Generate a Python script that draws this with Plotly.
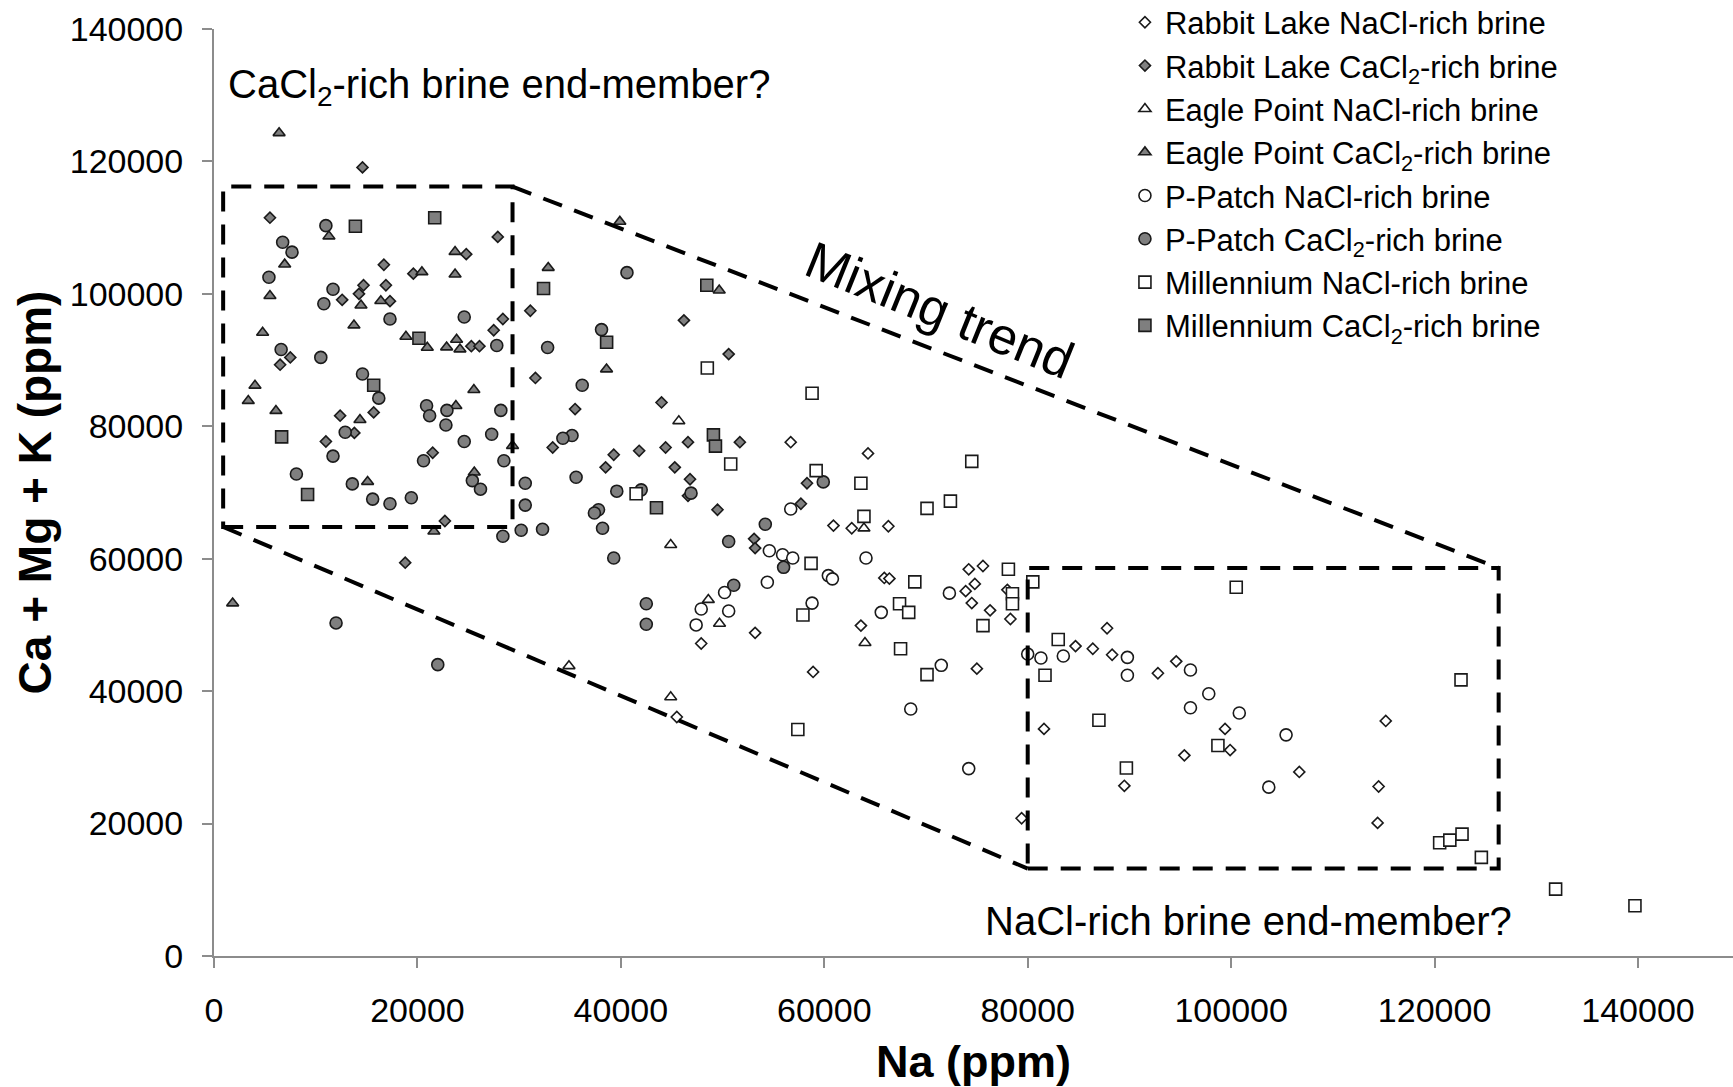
import plotly.graph_objects as go

FONT = "Liberation Sans, Arial, sans-serif"

# ---------------- data (Na ppm, Ca+Mg+K ppm) ----------------
rl_nacl_na = [56700, 60900, 47900, 53200, 58900, 45500, 64300, 62700, 66300, 65900, 66400, 74200, 75600,
              74800, 73900, 74500, 76300, 78000, 78300, 63600, 75000, 84700, 86400, 87800, 88300, 92800,
              94600, 99400, 99900, 95400, 106700, 89500, 81600, 115200, 114500, 114400, 79400]
rl_nacl_cmk = [77600, 65000, 47200, 48800, 42900, 36100, 75900, 64600, 64900, 57100, 57000, 58400, 58900,
               56200, 55100, 53300, 52200, 55300, 50900, 49900, 43400, 46800, 46400, 49500, 45500, 42700,
               44500, 34300, 31100, 30300, 27800, 25700, 34300, 35500, 25600, 20100, 20800]

rl_cacl_na = [14600, 5500, 27900, 24800, 16700, 19600, 12600, 14700, 14250, 16900, 17300, 28400, 27500,
              25300, 26100, 7500, 6500, 31100, 12400, 15700, 13800, 11000, 21500, 22700, 18800, 46200,
              50600, 31600, 35500, 44000, 33300, 51700, 39300, 41800, 44400, 46600, 38500, 45300, 46800,
              46600, 49500, 53100, 53200, 58300, 57700]
rl_cacl_cmk = [119100, 111500, 108600, 106000, 104400, 103050, 99100, 101300, 100000, 101300, 98900, 96200,
               94500, 92100, 92100, 90400, 89300, 97450, 81600, 82100, 79000, 77700, 76000, 65700, 59400,
               96000, 90900, 87300, 82600, 83600, 76800, 77600, 75700, 76300, 76800, 77600, 73800, 73800,
               72000, 69500, 67400, 63000, 61600, 71400, 68300]

ep_nacl_na = [45700, 44900, 48600, 49700, 34900, 44900, 63900, 64000]
ep_nacl_cmk = [80800, 62100, 53800, 50200, 43800, 39100, 64600, 47300]

ep_cacl_na = [6400, 11300, 6950, 23700, 20440, 23700, 5500, 14450, 16400, 13760, 4780, 18870, 20970, 22870,
              23850, 24180, 4030, 25550, 3370, 6090, 23780, 14350, 29350, 15100, 25590, 21620, 1835, 39900,
              32860, 49670, 38590]
ep_cacl_cmk = [124300, 108700, 104450, 106360, 103300, 102950, 99700, 98270, 98930, 95260, 94150, 93550,
               91890, 91940, 93090, 91640, 86160, 85500, 83850, 82340, 83090, 80980, 77060, 71630, 73040,
               64140, 53280, 110900, 103950, 100530, 88620]

pp_nacl_na = [54600, 55900, 56900, 54400, 60400, 60800, 56700, 50200, 47900, 50600, 47400, 58800, 64100,
              72300, 65600, 71500, 80000, 81300, 83500, 89800, 89800, 96000, 97800, 96000, 100800, 105400,
              103700, 68500, 74200]
pp_nacl_cmk = [61200, 60600, 60100, 56450, 57450, 56960, 67500, 54900, 52400, 52100, 50000, 53300, 60100,
               54800, 51900, 43900, 45600, 45000, 45300, 45100, 42400, 43200, 39600, 37500, 36700, 33400,
               25500, 37300, 28300]

pp_cacl_na = [11000, 6750, 7670, 5400, 11700, 10800, 17300, 24600, 27800, 6600, 10500, 14600, 16200, 20900,
              21200, 22900, 28200, 12900, 11700, 22800, 24600, 27300, 28500, 20600, 8100, 13600, 15600,
              17300, 19400, 25400, 26200, 30600, 30600, 28400, 30200, 12000, 22000, 32300, 35600, 39600,
              42000, 37800, 37400, 38200, 39300, 46900, 50600, 54200, 56000, 59900, 51100, 42500, 42500,
              40600, 38100, 32800, 36200, 35200, 34300]
pp_cacl_cmk = [110300, 107800, 106300, 102500, 100700, 98500, 96200, 96500, 92200, 91600, 90400, 87900,
               84250, 83100, 81600, 82400, 82400, 79100, 75500, 80200, 77700, 78800, 74800, 74800, 72800,
               71300, 69000, 68300, 69200, 71800, 70500, 71400, 68100, 63400, 64300, 50300, 44000, 64450,
               72300, 70200, 70400, 67400, 66900, 64600, 60100, 69900, 62600, 65200, 58700, 71600, 56000,
               53200, 50100, 103200, 94600, 91900, 86200, 78600, 78200]

mi_nacl_na = [48500, 58800, 50800, 59200, 41500, 58700, 57900, 74500, 63600, 72400, 70100, 63900, 68900,
              78100, 78500, 78500, 80500, 75600, 67400, 68300, 67500, 70100, 83000, 81700, 100500, 98700,
              89700, 87000, 122600, 120500, 121500, 122700, 124600, 131900, 139700, 57400]
mi_nacl_cmk = [88800, 85000, 74300, 73300, 69800, 59300, 51500, 74700, 71400, 68700, 67600, 66400, 56500,
               58400, 54700, 53200, 56500, 49900, 53200, 51900, 46400, 42500, 47800, 42400, 55700, 31800,
               28400, 35600, 41700, 17100, 17500, 18400, 14900, 10100, 7600, 34200]

mi_cacl_na = [13900, 21700, 20150, 15700, 6650, 9200, 32400, 48450, 38600, 49100, 49300, 43500]
mi_cacl_cmk = [110200, 111500, 93300, 86200, 78400, 69700, 100800, 101300, 92700, 78700, 77000, 67700]

series_names = [
    "Rabbit Lake NaCl-rich brine",
    "Rabbit Lake CaCl<sub>2</sub>-rich brine",
    "Eagle Point NaCl-rich brine",
    "Eagle Point CaCl<sub>2</sub>-rich brine",
    "P-Patch NaCl-rich brine",
    "P-Patch CaCl<sub>2</sub>-rich brine",
    "Millennium NaCl-rich brine",
    "Millennium CaCl<sub>2</sub>-rich brine",
]
series_x = [rl_nacl_na, rl_cacl_na, ep_nacl_na, ep_cacl_na, pp_nacl_na, pp_cacl_na, mi_nacl_na, mi_cacl_na]
series_y = [rl_nacl_cmk, rl_cacl_cmk, ep_nacl_cmk, ep_cacl_cmk, pp_nacl_cmk, pp_cacl_cmk, mi_nacl_cmk, mi_cacl_cmk]

x_ticks = [0, 20000, 40000, 60000, 80000, 100000, 120000, 140000]
y_ticks = [0, 20000, 40000, 60000, 80000, 100000, 120000, 140000]

# styling
symbols = ["diamond", "diamond", "triangle-up", "triangle-up", "circle", "circle", "square", "square"]
sizes = [8.5, 8.5, 10.5, 10.5, 12, 12, 12, 12]
fills = ["white", "#7f7f7f"] * 4

# annotation geometry (data units)
left_box = dict(x0=900, y0=64800, x1=29350, y1=116200)
right_box = dict(x0=80000, y0=13200, x1=126300, y1=58600)
upper_link = ([29350, 126300], [116200, 58600])
lower_link = ([900, 80000], [64800, 13200])

fig = go.Figure()
for name, xs, ys, sym, sz, fc in zip(series_names, series_x, series_y, symbols, sizes, fills):
    fig.add_trace(go.Scatter(
        x=xs, y=ys, mode="markers", name=name,
        marker=dict(symbol=sym, size=sz, color=fc, line=dict(color="#1a1a1a", width=1.6)),
    ))

dash_line = dict(color="black", width=4, dash="20px,13px")
shapes = [
    dict(type="rect", xref="x", yref="y", line=dash_line, fillcolor="rgba(0,0,0,0)", layer="above", **left_box),
    dict(type="rect", xref="x", yref="y", line=dash_line, fillcolor="rgba(0,0,0,0)", layer="above", **right_box),
    dict(type="line", xref="x", yref="y", line=dash_line, layer="above",
         x0=upper_link[0][0], x1=upper_link[0][1], y0=upper_link[1][0], y1=upper_link[1][1]),
    dict(type="line", xref="x", yref="y", line=dash_line, layer="above",
         x0=lower_link[0][0], x1=lower_link[0][1], y0=lower_link[1][0], y1=lower_link[1][1]),
]

annotations = [
    dict(x=1200, y=131200, xref="x", yref="y", xanchor="left", yanchor="middle", showarrow=False,
         text="CaCl<sub>2</sub>-rich brine end-member?", font=dict(family=FONT, size=40, color="black")),
    dict(x=71300, y=97500, xref="x", yref="y", xanchor="center", yanchor="middle", showarrow=False,
         text="Mixing trend", textangle=22, font=dict(family=FONT, size=52, color="black")),
    dict(x=75600, y=5300, xref="x", yref="y", xanchor="left", yanchor="middle", showarrow=False,
         text="NaCl-rich brine end-member?", font=dict(family=FONT, size=40, color="black")),
]

axis_common = dict(showline=True, linecolor="#8c8c8c", linewidth=2, ticks="outside", ticklen=10,
                   tickwidth=2, tickcolor="#8c8c8c", showgrid=False, zeroline=False, tickformat="d",
                   tickfont=dict(family=FONT, size=34, color="black"))

fig.update_layout(
    width=1733, height=1087,
    margin=dict(l=214, r=0, t=29, b=131, autoexpand=False),
    paper_bgcolor="white", plot_bgcolor="white",
    font=dict(family=FONT, color="black"),
    xaxis=dict(range=[0, 149340], tickvals=x_ticks, ticklabelstandoff=13,
               title=dict(text="<b>Na (ppm)</b>", font=dict(family=FONT, size=45, color="black"), standoff=22),
               **axis_common),
    yaxis=dict(range=[0, 140000], tickvals=y_ticks, ticklabelstandoff=12,
               title=dict(text="<b>Ca + Mg + K (ppm)</b>", font=dict(family=FONT, size=46, color="black"), standoff=4),
               **axis_common),
    legend=dict(x=0.5997, y=1.036, xanchor="left", yanchor="top", bgcolor="rgba(255,255,255,0)",
                font=dict(family=FONT, size=31, color="black"), borderwidth=0, itemsizing="trace"),
    shapes=shapes, annotations=annotations, showlegend=True,
)

fig.write_html("out.html", config={"displayModeBar": False},
               post_script="document.body.style.margin='0';")
